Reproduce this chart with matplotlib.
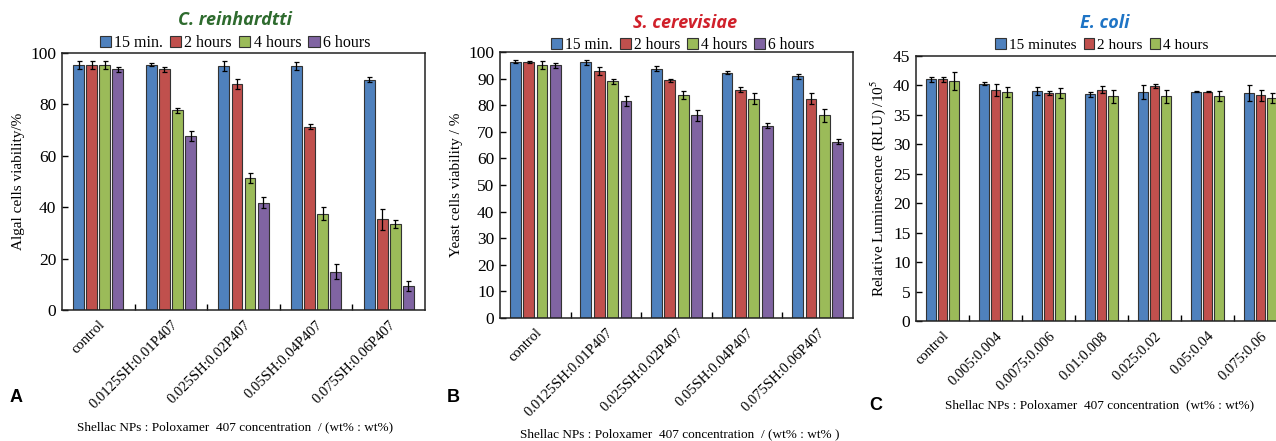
import matplotlib
matplotlib.use("Agg")
import matplotlib.pyplot as plt
import numpy as np

plt.rcParams['mathtext.fontset'] = 'stix'
SERIF = 'Liberation Serif'

# ---------------- data ----------------
cats_A = ["control", "0.0125SH:0.01P407", "0.025SH:0.02P407", "0.05SH:0.04P407", "0.075SH:0.06P407"]
series_AB = ["15 min.", "2 hours", "4 hours", "6 hours"]
A_15min = [95.2, 95.5, 95.0, 95.0, 89.6]
A_2h = [95.2, 93.6, 88.0, 71.3, 35.3]
A_4h = [95.2, 77.7, 51.3, 37.5, 33.6]
A_6h = [93.6, 67.8, 41.8, 14.9, 9.4]
A_15min_err = [1.5, 0.5, 2.0, 1.5, 1.0]
A_2h_err = [1.5, 1.0, 2.0, 1.0, 4.0]
A_4h_err = [1.5, 1.0, 2.0, 2.5, 1.5]
A_6h_err = [1.0, 2.0, 2.0, 3.0, 2.0]

cats_B = ["control", "0.0125SH:0.01P407", "0.025SH:0.02P407", "0.05SH:0.04P407", "0.075SH:0.06P407"]
B_15min = [96.4, 96.1, 93.7, 92.2, 90.9]
B_2h = [96.2, 92.7, 89.3, 85.8, 82.5]
B_4h = [95.2, 89.0, 83.8, 82.5, 76.2]
B_6h = [95.0, 81.6, 76.2, 72.3, 66.3]
B_15min_err = [0.5, 1.0, 1.0, 0.5, 1.0]
B_2h_err = [0.5, 1.5, 0.5, 1.0, 2.0]
B_4h_err = [1.5, 1.0, 1.5, 2.0, 2.5]
B_6h_err = [1.0, 2.0, 2.0, 1.0, 1.0]

cats_C = ["control", "0.005:0.004", "0.0075:0.006", "0.01:0.008", "0.025:0.02", "0.05:0.04", "0.075:0.06"]
series_C = ["15 minutes", "2 hours", "4 hours"]
C_15min = [41.05, 40.3, 39.1, 38.5, 38.9, 38.96, 38.7]
C_2h = [41.05, 39.25, 38.7, 39.3, 39.9, 38.96, 38.3]
C_4h = [40.7, 38.9, 38.7, 38.2, 38.2, 38.2, 37.9]
C_15min_err = [0.4, 0.2, 0.7, 0.4, 1.2, 0.1, 1.3]
C_2h_err = [0.4, 1.0, 0.4, 0.6, 0.4, 0.1, 1.0]
C_4h_err = [1.5, 0.8, 0.8, 1.1, 1.1, 0.9, 0.8]

colors = ["#4F81BD", "#C0504D", "#9BBB59", "#8064A2"]

W, H = 1276, 441
fig = plt.figure(figsize=(W / 100, H / 100), dpi=100)


def axrect(l, t, r, b):
    return [l / W, 1 - b / H, (r - l) / W, (b - t) / H]


def panel(rect, cats, vals, errs, names, stride, width, ymax, ystep,
          ylabel, title, tcolor, tx, ty, lx, ly, lsize, xlabel, xlx, xly, letter, ltx, lty):
    ax = fig.add_axes(axrect(*rect))
    n = len(vals)
    x = np.arange(len(cats))
    for i in range(n):
        off = (i - (n - 1) / 2) * stride
        ax.bar(x + off, vals[i], width, color=colors[i], edgecolor="#333333",
               linewidth=0.8, label=names[i], zorder=2)
        ax.errorbar(x + off, vals[i], yerr=errs[i], fmt='none', ecolor='black',
                    elinewidth=0.9, capsize=1.8, capthick=0.9, zorder=3)
    ax.set_xlim(-0.5, len(cats) - 0.5)
    ax.set_ylim(0, ymax)
    ax.set_yticks(np.arange(0, ymax + 0.1, ystep))
    ax.set_xticks(x)
    ax.set_xticklabels(cats, rotation=45, ha='right', rotation_mode='anchor',
                       fontfamily=SERIF, fontsize=10.5)
    ax.set_xticks(np.arange(0.5, len(cats) - 0.5), minor=True)
    ax.tick_params(axis='x', which='major', length=0, pad=6)
    ax.tick_params(axis='x', which='minor', direction='in', length=4, width=1)
    ax.tick_params(axis='y', direction='in', length=4, width=1, labelsize=12.5, pad=4)
    for lab in ax.get_yticklabels():
        lab.set_fontfamily(SERIF)
    for s in ax.spines.values():
        s.set_linewidth(1.1)
        s.set_color('#222222')
    ax.set_ylabel(ylabel, fontfamily=SERIF, fontsize=11)
    fig.text(tx / W, 1 - ty / H, title, ha='center', va='center', color=tcolor,
             fontsize=13, fontweight='bold', fontstyle='italic', fontfamily='Open Sans')
    fig.legend(*ax.get_legend_handles_labels(), loc='center',
               bbox_to_anchor=(lx / W, 1 - ly / H), ncol=n, frameon=False,
               prop={'family': SERIF, 'size': lsize}, handlelength=0.7, handleheight=0.7,
               handletextpad=0.2, columnspacing=0.45, borderpad=0)
    fig.text(xlx / W, 1 - xly / H, xlabel, ha='center', va='center',
             fontfamily=SERIF, fontsize=9.5)
    fig.text(ltx / W, 1 - lty / H, letter, ha='center', va='center',
             fontfamily='Liberation Sans', fontweight='bold', fontsize=13)
    return ax


xl = "Shellac NPs : Poloxamer  407 concentration  / (wt% : wt%)"
panel((62, 53, 425, 310), cats_A, [A_15min, A_2h, A_4h, A_6h],
      [A_15min_err, A_2h_err, A_4h_err, A_6h_err], series_AB, 0.18, 0.15, 100, 20,
      "Algal cells viability/%", "C. reinhardtti", "#2E6B2E", 235, 20, 235, 43, 11.5,
      xl, 235, 427, "A", 16, 398)
panel((500, 52, 853, 318), cats_B, [B_15min, B_2h, B_4h, B_6h],
      [B_15min_err, B_2h_err, B_4h_err, B_6h_err], series_AB, 0.19, 0.155, 100, 10,
      "Yeast cells viability / %", "S. cerevisiae", "#D0202A", 685, 23, 683, 45, 11.2,
      "Shellac NPs : Poloxamer  407 concentration  / (wt% : wt% )", 680, 434, "B", 453, 398)
panel((916, 56, 1287, 321), cats_C, [C_15min, C_2h, C_4h],
      [C_15min_err, C_2h_err, C_4h_err], series_C, 0.22, 0.18, 45, 5,
      "Relative Luminescence (RLU) /10$^5$", "E. coli", "#1E74C5", 1105, 23, 1102, 45, 11.0,
      "Shellac NPs : Poloxamer  407 concentration  (wt% : wt%)", 1100, 405, "C", 876, 405)

fig.savefig("out.png", dpi=100)
